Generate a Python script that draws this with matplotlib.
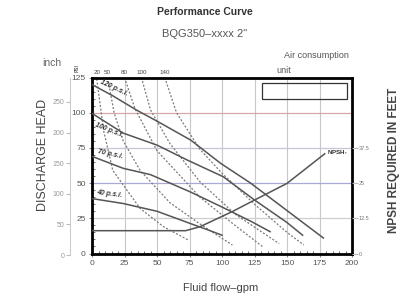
import matplotlib.pyplot as plt
from matplotlib.ticker import MultipleLocator
from matplotlib.patches import Rectangle

plt.rcParams['font.family'] = ['Liberation Sans', 'DejaVu Sans']

# Curvas de presion (gpm vs altura)
flow_120 = [0, 16, 34, 51, 76, 99, 122, 150, 178]
head_120 = [120, 112, 102, 93.5, 80.5, 64, 50, 30.5, 11]
flow_100 = [0, 24, 50, 73, 101, 125, 150, 162]
head_100 = [99.5, 85.5, 77, 66.5, 54.5, 38, 22, 13]
flow_70 = [0, 24, 45, 75, 100, 123, 137]
head_70 = [69, 60.5, 56, 44, 33, 22.5, 15.5]
flow_40 = [0, 24, 50, 75, 90, 100]
head_40 = [39, 35.5, 30, 21.5, 16.5, 13]

# NPSH requerido (pies)
npsh_flow = [0, 72, 83, 108, 123, 150, 179]
npsh_ft = [8.1, 8.1, 9.5, 14.9, 18.5, 24.9, 35.4]

# Consumo de aire (lineas punteadas)
scfm_labels = ['20', '50', '80', '100', '140']
air20_flow = [3.6, 9, 16, 37, 55, 74]
air20_head = [124, 87, 59, 32, 19, 9.6]
air50_flow = [12, 17, 24, 37, 60, 83, 108]
air50_head = [125, 100, 80, 59, 36, 21, 6]
air80_flow = [25, 33, 50, 83, 110, 131]
air80_head = [125, 103, 73, 40, 20, 5]
air100_flow = [38, 45, 60, 83, 110, 144]
air100_head = [125, 102, 78, 51, 28, 7]
air140_flow = [56, 65, 83, 100, 125, 150, 163]
air140_head = [125, 100, 74, 57, 35, 15, 6]

W, H = 408, 294
fig = plt.figure(figsize=(W / 100, H / 100), dpi=100)
ax = fig.add_axes([92 / W, 1 - 253.5 / H, 260 / W, 176 / H])
ax.set_xlim(0, 200)
ax.set_ylim(0, 125)

# Rejilla
for gx in range(25, 200, 25):
    ax.axvline(gx, color='#c8c8c8', lw=0.8, zorder=1)
for gy, gc in [(25, '#cfcfcf'), (50, '#a9a9d8'), (75, '#c9c2d8'), (100, '#d8a8a8')]:
    ax.axhline(gy, color=gc, lw=0.9, zorder=1)

# Lineas de aire
air_flows = [air20_flow, air50_flow, air80_flow, air100_flow, air140_flow]
air_heads = [air20_head, air50_head, air80_head, air100_head, air140_head]
for fx, hy in zip(air_flows, air_heads):
    ax.plot(fx, hy, color='#7a7a7a', lw=0.9, ls=(0, (1.6, 1.4)), zorder=2)

# Lineas de presion
for fx, hy in [(flow_120, head_120), (flow_100, head_100), (flow_70, head_70), (flow_40, head_40)]:
    ax.plot(fx, hy, color='#555555', lw=1.1, zorder=3)

lab_kw = dict(fontsize=5, fontweight='bold', fontstyle='italic', color='#333333',
              ha='center', va='center', rotation_mode='anchor', zorder=4)
ax.text(17, 117.5, '120 p.s.i.', rotation=-25, **lab_kw)
ax.text(13, 87.5, '100 p.s.i.', rotation=-22, **lab_kw)
ax.text(14.4, 70.5, '70 p.s.i.', rotation=-12, **lab_kw)
ax.text(13.1, 42, '40 p.s.i.', rotation=-7, **lab_kw)

# Caja de consumo de aire
ax.add_patch(Rectangle((131, 109.5), 65.5, 11.8, fill=False, ec='#333333', lw=0.9, zorder=4))

# Marco y ticks
for s in ax.spines.values():
    s.set_linewidth(2)
    s.set_color('black')
ax.set_xticks(range(0, 201, 25))
ax.set_yticks(range(0, 126, 25))
ax.xaxis.set_minor_locator(MultipleLocator(5))
ax.yaxis.set_minor_locator(MultipleLocator(5))
ax.tick_params(axis='both', which='major', labelsize=6, labelcolor='#555555',
               length=2.5, color='#888888', pad=2)
ax.tick_params(axis='both', which='minor', direction='in', length=2, color='#555555',
               right=True, top=False)

# Eje superior: consumo de aire
top = ax.secondary_xaxis('top')
top.set_xticks([fx[0] for fx in air_flows])
top.set_xticklabels(scfm_labels)
top.tick_params(length=0, labelsize=4.5, labelcolor='#444444', pad=2)
top.spines['top'].set_visible(False)

# Eje NPSH (derecha)
axn = ax.twinx()
axn.set_ylim(0, 62.5)
axn.plot(npsh_flow, npsh_ft, color='#555555', lw=1.1, zorder=3)
axn.text(npsh_flow[-1] + 1.5, npsh_ft[-1] + 0.5, 'NPSH$_r$', fontsize=4.5, fontweight='bold',
         color='#333333', ha='left', va='center')
axn.set_yticks([0, 12.5, 25, 37.5])
axn.set_yticklabels(['0', '12.5', '25', '37.5'])
axn.tick_params(axis='y', length=4, color='#bbbbbb', labelsize=4, labelcolor='#777777', pad=1)
for s in axn.spines.values():
    s.set_visible(False)

# Eje en pulgadas (izquierda exterior)
axi = fig.add_axes([70 / W, 1 - 255 / H, 0.0001, 177 / H])
axi.set_ylim(0, 289)
axi.set_yticks(range(0, 251, 50))
axi.set_xticks([])
for k in ['top', 'right', 'bottom']:
    axi.spines[k].set_visible(False)
axi.spines['left'].set_color('#cccccc')
axi.spines['left'].set_linewidth(0.8)
axi.tick_params(axis='y', length=3, color='#bbbbbb', labelsize=5, labelcolor='#999999', pad=1)

# Textos
fig.text(205 / W, 1 - 12 / H, 'Performance Curve', fontsize=7.5, fontweight='bold',
         color='#333333', ha='center', va='center')
fig.text(205 / W, 1 - 34 / H, 'BQG350\u2013xxxx 2"', fontsize=8, color='#555555',
         ha='center', va='center')
fig.text(52 / W, 1 - 63 / H, 'inch', fontsize=7.5, color='#666666', ha='center', va='center')
fig.text(77 / W, 1 - 68 / H, 'PSI', fontsize=3.5, fontweight='bold', color='#555555',
         rotation=90, ha='center', va='center')
fig.text(316 / W, 1 - 56 / H, 'Air consumption', fontsize=6.5, color='#555555',
         ha='center', va='center')
fig.text(284 / W, 1 - 71 / H, 'unit', fontsize=6.5, color='#555555', ha='center', va='center')
fig.text(43 / W, 1 - 155 / H, 'DISCHARGE HEAD', fontsize=9, color='#444444',
         rotation=90, ha='center', va='center')
fig.text(394 / W, 1 - 160 / H, 'NPSH REQUIRED IN FEET', fontsize=8.5, fontweight='bold',
         color='#444444', rotation=90, ha='center', va='center')
fig.text(221 / W, 1 - 288 / H, 'Fluid flow\u2013gpm', fontsize=8, color='#444444',
         ha='center', va='center')

fig.savefig('out.png', dpi=100)
